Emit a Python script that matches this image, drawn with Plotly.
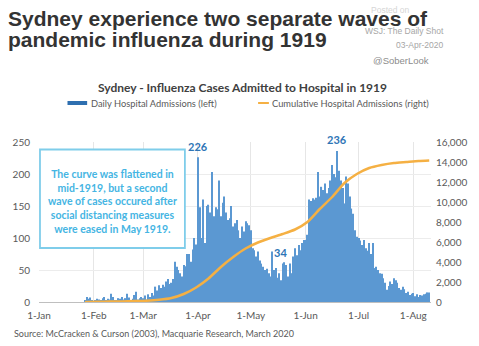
import plotly.graph_objects as go
import pandas as pd

# ---------------- data ----------------
start_date = "1919-01-27"
daily_jan = [2, 8, 5, 7, 3]
daily_feb = [0, 3, 5, 4, 2, 6, 8, 3, 5, 4, 13, 8, 3, 2, 6, 5, 8, 4, 6, 13, 7, 3, 5, 11, 16, 4, 6, 8]
daily_mar = [6, 10, 4, 12, 8, 14, 10, 24, 18, 26, 22, 27, 24, 32, 36, 28, 30, 36, 63, 55,
             50, 45, 40, 58, 56, 75, 75, 63, 82, 100, 90]
daily_apr = [226, 148, 100, 160, 92, 150, 152, 140, 203, 134, 148, 145, 190, 134, 155, 165, 140, 128,
             131, 150, 118, 123, 128, 112, 100, 118, 110, 126, 123, 120]
daily_may = [112, 84, 81, 71, 79, 65, 60, 55, 50, 52, 45, 40, 79, 50, 53, 38, 45, 34, 60, 62,
             58, 40, 60, 45, 71, 84, 73, 89, 81, 92, 97]
daily_jun = [97, 105, 160, 158, 162, 160, 163, 203, 165, 180, 175, 185, 170, 178, 190, 214, 200, 195,
             236, 205, 190, 178, 154, 196, 185, 165, 146, 138, 112, 102]
daily_jul = [100, 96, 89, 97, 84, 80, 92, 75, 92, 53, 55, 50, 45, 44, 37, 30, 19, 25, 32, 28,
             37, 34, 30, 22, 19, 24, 20, 14, 16, 11, 13]
daily_aug = [14, 9, 12, 8, 11, 10, 12, 13, 15, 15]

cum_dates = ["1919-01-27", "1919-02-03", "1919-02-10", "1919-02-17", "1919-02-24", "1919-03-03",
             "1919-03-10", "1919-03-17", "1919-03-24", "1919-03-31", "1919-04-07", "1919-04-14",
             "1919-04-21", "1919-04-28", "1919-05-05", "1919-05-12", "1919-05-19", "1919-05-26",
             "1919-06-02", "1919-06-09", "1919-06-16", "1919-06-23", "1919-06-30", "1919-07-07",
             "1919-07-14", "1919-07-21", "1919-07-28", "1919-08-04", "1919-08-10"]
cum_values = [0, 20, 40, 60, 90, 130, 220, 400, 800, 1450, 2350, 3500, 4500, 5350, 5950, 6400,
              6800, 7250, 8000, 9300, 10500, 11900, 12800, 13400, 13700, 13900, 14000, 14100, 14150]

month_ticks = ["1919-01-01", "1919-02-01", "1919-03-01", "1919-04-01", "1919-05-01",
               "1919-06-01", "1919-07-01", "1919-08-01"]
month_labels = ["1-Jan", "1-Feb", "1-Mar", "1-Apr", "1-May", "1-Jun", "1-Jul", "1-Aug"]

callouts_dates = ["1919-04-01", "1919-06-19", "1919-05-18"]
callouts_vals = [226, 236, 34]

daily = daily_jan + daily_feb + daily_mar + daily_apr + daily_may + daily_jun + daily_jul + daily_aug
dates = pd.date_range(start_date, periods=len(daily), freq="D")

# ---------------- layout geometry (pixels) ----------------
W, H = 479, 346
L, R, T, B = 39, 438, 142, 302


def px(xp):
    return (xp - L) / (R - L)


def py(yp):
    return (B - yp) / (B - T)


FONT = "Lato"
GREY = "#595959"

fig = go.Figure()
fig.add_trace(go.Bar(x=dates, y=daily, marker=dict(color="#5b98d2", line=dict(width=0)),
                     name="Daily Hospital Admissions (left)", showlegend=False))
fig.add_trace(go.Scatter(x=pd.to_datetime(cum_dates), y=cum_values, yaxis="y2", mode="lines",
                         line=dict(color="#f5b043", width=2.5, shape="spline", smoothing=0.6),
                         name="Cumulative Hospital Admissions (right)", showlegend=False))

ann = []
# faint watermark behind the title
ann.append(dict(x=px(375), y=py(10), xref="paper", yref="paper", xanchor="left", yanchor="middle",
                text="Posted on", showarrow=False,
                font=dict(family="Liberation Sans", size=8.5, color="#d6d6d6")))
# value call-outs
shifts = [11, 11, 28]
for d, v, s in zip(callouts_dates, callouts_vals, shifts):
    ann.append(dict(x=d, y=v, xref="x", yref="y", text=f"<b>{v}</b>", showarrow=False,
                    yshift=s, font=dict(family=FONT, size=11, color="#2e75b6")))

# big title
ann.append(dict(x=px(5), y=py(18.5), xref="paper", yref="paper", xanchor="left", yanchor="middle",
                text="<b>Sydney experience two separate waves of</b>", showarrow=False,
                font=dict(family="Liberation Sans", size=21, color="#333333")))
ann.append(dict(x=px(5), y=py(39.5), xref="paper", yref="paper", xanchor="left", yanchor="middle",
                text="<b>pandemic influenza during 1919</b>", showarrow=False,
                font=dict(family="Liberation Sans", size=21, color="#333333")))
# watermark
ann.append(dict(x=px(453), y=py(31), xref="paper", yref="paper", xanchor="right", yanchor="middle",
                text="WSJ: The Daily Shot", showarrow=False,
                font=dict(family="Liberation Sans", size=8.5, color="#a6a6a6")))
ann.append(dict(x=px(453), y=py(45), xref="paper", yref="paper", xanchor="right", yanchor="middle",
                text="03-Apr-2020", showarrow=False,
                font=dict(family="Liberation Sans", size=8.5, color="#a6a6a6")))
ann.append(dict(x=px(407), y=py(61), xref="paper", yref="paper", xanchor="center", yanchor="middle",
                text="@SoberLook", showarrow=False,
                font=dict(family="Liberation Sans", size=9.5, color="#8c8c8c")))
# chart title
ann.append(dict(x=px(246), y=py(87), xref="paper", yref="paper", xanchor="center", yanchor="middle",
                text="<b>Sydney - Influenza Cases Admitted to Hospital in 1919</b>", showarrow=False,
                font=dict(family=FONT, size=12, color="#404040")))
# legend texts
ann.append(dict(x=px(90), y=py(103), xref="paper", yref="paper", xanchor="left", yanchor="middle",
                text="Daily Hospital Admissions (left)", showarrow=False,
                font=dict(family=FONT, size=9.3, color=GREY)))
ann.append(dict(x=px(274), y=py(103), xref="paper", yref="paper", xanchor="left", yanchor="middle",
                text="Cumulative Hospital Admissions (right)", showarrow=False,
                font=dict(family=FONT, size=9.3, color=GREY)))
# text box
ann.append(dict(x=px(113.5), y=py(201), xref="paper", yref="paper", xanchor="center", yanchor="middle",
                text="<b>The curve was flattened in<br>mid-1919, but a second<br>wave of cases occured after"
                     "<br>social distancing measures<br>were eased in May 1919.</b>",
                showarrow=False, align="center",
                font=dict(family=FONT, size=10.5, color="#45b5e3")))
# source
ann.append(dict(x=px(12), y=py(333), xref="paper", yref="paper", xanchor="left", yanchor="middle",
                text="Source: McCracken &amp; Curson (2003), Macquarie Research, March 2020",
                showarrow=False, font=dict(family=FONT, size=9, color=GREY)))

shapes = [
    dict(type="rect", xref="paper", yref="paper", x0=px(40), x1=px(187.5), y0=py(149.5), y1=py(248),
         line=dict(color="#7fcdea", width=1.8), fillcolor="white", layer="above"),
    dict(type="rect", xref="paper", yref="paper", x0=px(68), x1=px(88), y0=py(101), y1=py(105),
         line=dict(width=0), fillcolor="#2e6fb0"),
    dict(type="line", xref="paper", yref="paper", x0=px(262), x1=px(273), y0=py(103), y1=py(103),
         line=dict(color="#f5b043", width=2)),
]

fig.update_layout(
    width=W, height=H,
    margin=dict(l=L, r=W - R, t=T, b=H - B, pad=0),
    paper_bgcolor="white", plot_bgcolor="white",
    bargap=0.38,
    showlegend=False,
    annotations=ann,
    shapes=shapes,
    xaxis=dict(type="date", range=["1919-01-01", "1919-08-11"], tickvals=month_ticks,
               ticktext=month_labels, showgrid=True, gridcolor="#e6e6e6", gridwidth=1,
               showline=True, linecolor="#bfbfbf", linewidth=1, ticks="", zeroline=False,
               tickfont=dict(family=FONT, size=10, color=GREY), ticklabelstandoff=4),
    yaxis=dict(range=[0, 250], dtick=50, showgrid=True, gridcolor="#ececec", gridwidth=1,
               zeroline=False, ticks="", tickfont=dict(family=FONT, size=10, color=GREY),
               ticklabelstandoff=8),
    yaxis2=dict(range=[0, 16000], dtick=2000, overlaying="y", side="right", showgrid=False,
                zeroline=False, ticks="", tickformat=",",
                tickfont=dict(family=FONT, size=10, color=GREY), ticklabelstandoff=4),
)

fig.write_html("out.html")
